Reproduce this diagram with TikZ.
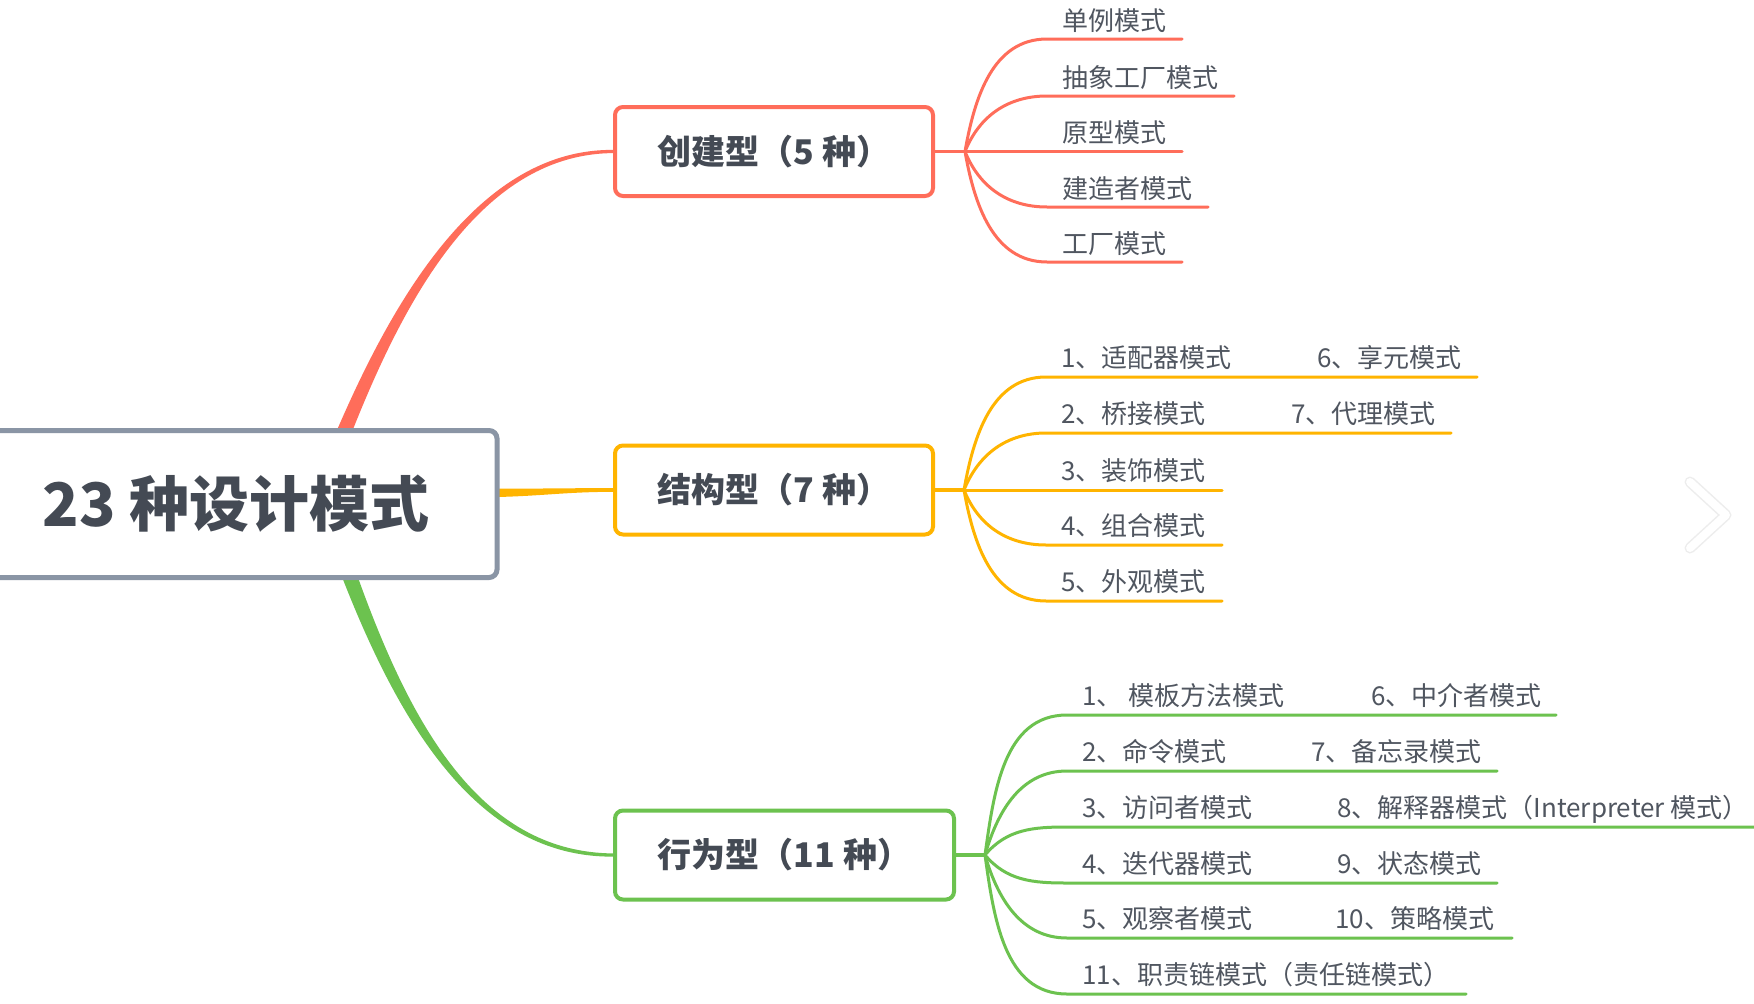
\documentclass[tikz,border=0pt]{standalone}
\usepackage{fontspec}
\setmainfont{Noto Sans CJK SC}
\usetikzlibrary{calc}
\definecolor{crered}{HTML}{FF6D5A}
\definecolor{strorange}{HTML}{FFB400}
\definecolor{behgreen}{HTML}{6CC24F}
\definecolor{rootgray}{HTML}{8A95A5}
\definecolor{inkdark}{HTML}{444A54}
\definecolor{inkgray}{HTML}{505660}
\tikzset{
  rootbox/.style={draw=rootgray, line width=5pt, fill=white, rounded corners=8pt,
    minimum width=522pt, minimum height=147pt, inner sep=0pt, text=inkdark,
    font=\fontsize{60}{60}\selectfont\bfseries},
  catbox/.style={draw=#1, line width=4pt, fill=white, rounded corners=8pt,
    minimum height=89pt, inner sep=0pt, text=inkdark,
    font=\fontsize{34}{34}\selectfont\bfseries},
  leaf/.style={anchor=base west, inner sep=0pt, text=inkgray,
    font=\fontsize{26}{26}\selectfont},
  twig/.style={draw=#1, line width=3pt, line cap=round},
}

\begin{document}
\begin{tikzpicture}[x=1pt, y=-1pt]
  %%%%% START %%%%%
  \useasboundingbox (0,0) rectangle (1754,1004);
  \fill[white] (0,0) rectangle (1754,1004);

  % category boxes
  \node[catbox=crered, minimum width=318pt] (cre) at (774,151.5) {创建型（5 种）};
  \node[catbox=strorange, minimum width=318pt] (str) at (774,490) {结构型（7 种）};
  \node[catbox=behgreen, minimum width=339pt] (beh) at (784.5,855) {行为型（11 种）};

  % main branches
  \coordinate (cre-root) at (325,480);
  \coordinate (str-root) at (470,493);
  \coordinate (beh-root) at (333,530);
  \fill[crered] ($(cre-root)+(-7.5,-2.9)$) .. controls ($(cre-root)+(48.4,-142.2)$) and ($(cre.west)+(-150,-2.8)$) .. ($(cre.west)+(0,-1.6)$)
    -- ($(cre.west)+(0,1.6)$) .. controls ($(cre.west)+(-150,2.8)$) and ($(cre-root)+(59.6,-137.8)$) .. ($(cre-root)+(7.5,2.9)$) -- cycle;
  \fill[strorange] ($(str-root)+(0,-4.5)$) .. controls ($(str-root)+(70,-4)$) and ($(str.west)+(-55,-2)$) .. ($(str.west)+(0,-1.8)$)
    -- ($(str.west)+(0,1.8)$) .. controls ($(str.west)+(-55,2)$) and ($(str-root)+(70,4)$) .. ($(str-root)+(0,4.5)$) -- cycle;
  \fill[behgreen] ($(beh-root)+(-7.6,2.6)$) .. controls ($(beh-root)+(50.3,162.9)$) and ($(beh.west)+(-150,2.8)$) .. ($(beh.west)+(0,1.6)$)
    -- ($(beh.west)+(0,-1.6)$) .. controls ($(beh.west)+(-150,-2.8)$) and ($(beh-root)+(61.7,159.1)$) .. ($(beh-root)+(7.6,-2.6)$) -- cycle;

  \node[rootbox] (root) at (236,504) {23 种设计模式};

  % creational
  \coordinate (cre-j) at (965,151.5);
  \draw[twig=crered, line width=3.5pt] (cre.east) -- (cre-j);
  \coordinate (c1a) at (1047,39);    \coordinate (c1b) at (1182,39);
  \coordinate (c2a) at (1047,96);    \coordinate (c2b) at (1234,96);
  \coordinate (c3a) at (1047,151.5); \coordinate (c3b) at (1182,151.5);
  \coordinate (c4a) at (1047,207);   \coordinate (c4b) at (1208,207);
  \coordinate (c5a) at (1047,262);   \coordinate (c5b) at (1182,262);
  \draw[twig=crered] (cre-j) to[out=80, in=180] (c1a) -- (c1b);
  \draw[twig=crered] (cre-j) to[out=68, in=180] (c2a) -- (c2b);
  \draw[twig=crered] (cre-j) -- (c3a) -- (c3b);
  \draw[twig=crered] (cre-j) to[out=-68, in=180] (c4a) -- (c4b);
  \draw[twig=crered] (cre-j) to[out=-80, in=180] (c5a) -- (c5b);
  \node[leaf] (c1) at (1062,30) {单例模式};
  \node[leaf] (c2) at (1062,87) {抽象工厂模式};
  \node[leaf] (c3) at (1062,142.5) {原型模式};
  \node[leaf] (c4) at (1062,198) {建造者模式};
  \node[leaf] (c5) at (1062,253) {工厂模式};

  % structural
  \coordinate (str-j) at (964,490);
  \draw[twig=strorange, line width=3.5pt] (str.east) -- (str-j);
  \coordinate (s1a) at (1046,377); \coordinate (s1b) at (1477,377);
  \coordinate (s2a) at (1046,433); \coordinate (s2b) at (1451,433);
  \coordinate (s3a) at (1046,490); \coordinate (s3b) at (1222,490);
  \coordinate (s4a) at (1046,545); \coordinate (s4b) at (1222,545);
  \coordinate (s5a) at (1046,601); \coordinate (s5b) at (1222,601);
  \draw[twig=strorange] (str-j) to[out=80, in=180] (s1a) -- (s1b);
  \draw[twig=strorange] (str-j) to[out=68, in=180] (s2a) -- (s2b);
  \draw[twig=strorange] (str-j) -- (s3a) -- (s3b);
  \draw[twig=strorange] (str-j) to[out=-68, in=180] (s4a) -- (s4b);
  \draw[twig=strorange] (str-j) to[out=-80, in=180] (s5a) -- (s5b);
  \node[leaf] (s1) at (1061,367) {1、适配器模式};
  \node[leaf] (s6) at (1317,367) {6、享元模式};
  \node[leaf] (s2) at (1061,423) {2、桥接模式};
  \node[leaf] (s7) at (1291,423) {7、代理模式};
  \node[leaf] (s3) at (1061,480) {3、装饰模式};
  \node[leaf] (s4) at (1061,535) {4、组合模式};
  \node[leaf] (s5) at (1061,591) {5、外观模式};

  % behavioral
  \coordinate (beh-j) at (985,855);
  \draw[twig=behgreen, line width=3.5pt] (beh.east) -- (beh-j);
  \coordinate (b1a) at (1067,715); \coordinate (b1b) at (1556,715);
  \coordinate (b2a) at (1067,771); \coordinate (b2b) at (1497,771);
  \coordinate (b3a) at (1067,827); \coordinate (b3b) at (1760,827);
  \coordinate (b4a) at (1067,883); \coordinate (b4b) at (1497,883);
  \coordinate (b5a) at (1067,938); \coordinate (b5b) at (1512,938);
  \coordinate (b6a) at (1067,994); \coordinate (b6b) at (1466,994);
  \draw[twig=behgreen] (beh-j) to[out=82, in=180] (b1a) -- (b1b);
  \draw[twig=behgreen] (beh-j) to[out=74, in=180] (b2a) -- (b2b);
  \draw[twig=behgreen] (beh-j) to[out=50, in=180] (b3a) -- (b3b);
  \draw[twig=behgreen] (beh-j) to[out=-50, in=180] (b4a) -- (b4b);
  \draw[twig=behgreen] (beh-j) to[out=-74, in=180] (b5a) -- (b5b);
  \draw[twig=behgreen] (beh-j) to[out=-82, in=180] (b6a) -- (b6b);
  \node[leaf] (b1) at (1082,705) {1、 模板方法模式};
  \node[leaf] (b6) at (1371,705) {6、中介者模式};
  \node[leaf] (b2) at (1082,761) {2、命令模式};
  \node[leaf] (b7) at (1311,761) {7、备忘录模式};
  \node[leaf] (b3) at (1082,817) {3、访问者模式};
  \node[leaf] (b8) at (1337,817) {8、解释器模式（Interpreter 模式）};
  \node[leaf] (b4) at (1082,873) {4、迭代器模式};
  \node[leaf] (b9) at (1337,873) {9、状态模式};
  \node[leaf] (b5) at (1082,928) {5、观察者模式};
  \node[leaf] (b10) at (1335,928) {10、策略模式};
  \node[leaf] (b11) at (1082,984) {11、职责链模式（责任链模式）};

  % page arrow
  \draw[black!7, line width=11pt, line cap=round, line join=round] (1690,482) -- (1726,515) -- (1690,548);
  \draw[white, line width=8pt, line cap=round, line join=round] (1690,482) -- (1726,515) -- (1690,548);
  %%%%% END %%%%%
\end{tikzpicture}
\end{document}
